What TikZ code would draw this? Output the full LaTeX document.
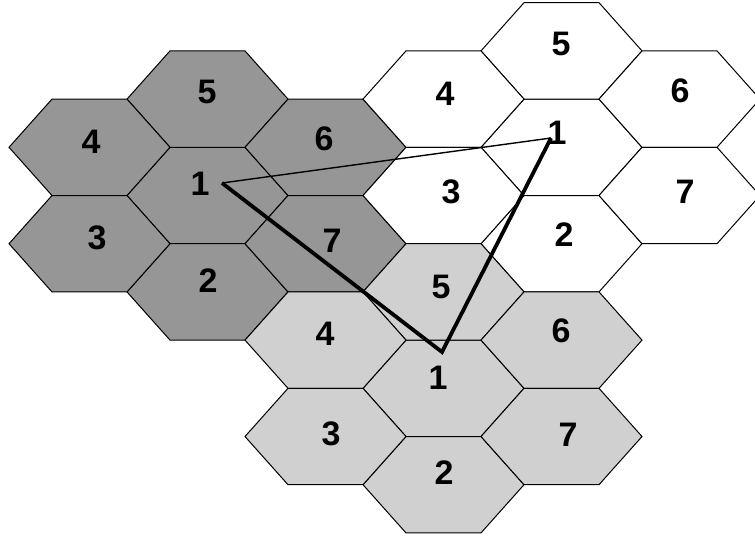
\documentclass[tikz,border=0pt]{standalone}
\usepackage{fontspec}
\setmainfont{Liberation Sans}
\definecolor{cdark}{RGB}{150,150,150}
\definecolor{clight}{RGB}{208,208,208}
\newcommand\hexcell[3]{%
  \path[#3, shift={(#1,#2)}] (-80.5,0) -- (-37.5,-48.2) -- (37.5,-48.2)
    -- (80.5,0) -- (37.5,48.2) -- (-37.5,48.2) -- cycle;}
\newcommand\hexcluster[3]{%
  \foreach \dx/\dy in {0/0,0/-2,0/2,-1/-1,-1/1,1/-1,1/1}{%
    \hexcell{#1+118*\dx}{#2+48.2*\dy}{#3}}}
\begin{document}
\begin{tikzpicture}[x=1pt,y=-1pt,
  hexline/.style={draw=black, line width=1pt, line join=miter},
  darkcell/.style={hexline, fill=cdark},
  whitecell/.style={hexline, fill=white},
  lightcell/.style={hexline, fill=clight},
  lbl/.style={font=\fontsize{34}{34}\selectfont\bfseries, inner sep=0pt},
  thinlink/.style={draw=black, line width=1.4pt},
  thicklink/.style={draw=black, line width=3.8pt, line join=miter}]
\useasboundingbox (0,0) rectangle (755,539);
\clip (0,0) rectangle (755,539);
\fill[white] (0,0) rectangle (755,539);
% clusters
\hexcluster{207.5}{195.5}{darkcell}
\hexcluster{561.5}{147.3}{whitecell}
\hexcluster{443.5}{388.3}{lightcell}
% triangle
\coordinate (D) at (222,183);
\coordinate (W) at (551,138);
\coordinate (L) at (442,352);
\draw[thinlink] (D) -- (W);
\draw[thicklink] (D) -- (L) -- (W);
% labels dark cluster
\node[lbl] (d1) at (200,184) {1};
\node[lbl] (d5) at (207,92) {5};
\node[lbl] (d2) at (208,281) {2};
\node[lbl] (d4) at (91,142) {4};
\node[lbl] (d3) at (97,238) {3};
\node[lbl] (d6) at (324,139) {6};
\node[lbl] (d7) at (332,241) {7};
% labels white cluster
\node[lbl] (w5) at (561,43.5) {5};
\node[lbl] (w4) at (445,94) {4};
\node[lbl] (w6) at (680,91) {6};
\node[lbl] (w1) at (557,133) {1};
\node[lbl] (w3) at (451,192) {3};
\node[lbl] (w7) at (685,192) {7};
\node[lbl] (w2) at (564,235) {2};
% labels light cluster
\node[lbl] (l5) at (441,287) {5};
\node[lbl] (l4) at (325,334) {4};
\node[lbl] (l6) at (561,331) {6};
\node[lbl] (l1) at (438,378) {1};
\node[lbl] (l3) at (331,434) {3};
\node[lbl] (l7) at (568,435) {7};
\node[lbl] (l2) at (444,473) {2};
\end{tikzpicture}
\end{document}
